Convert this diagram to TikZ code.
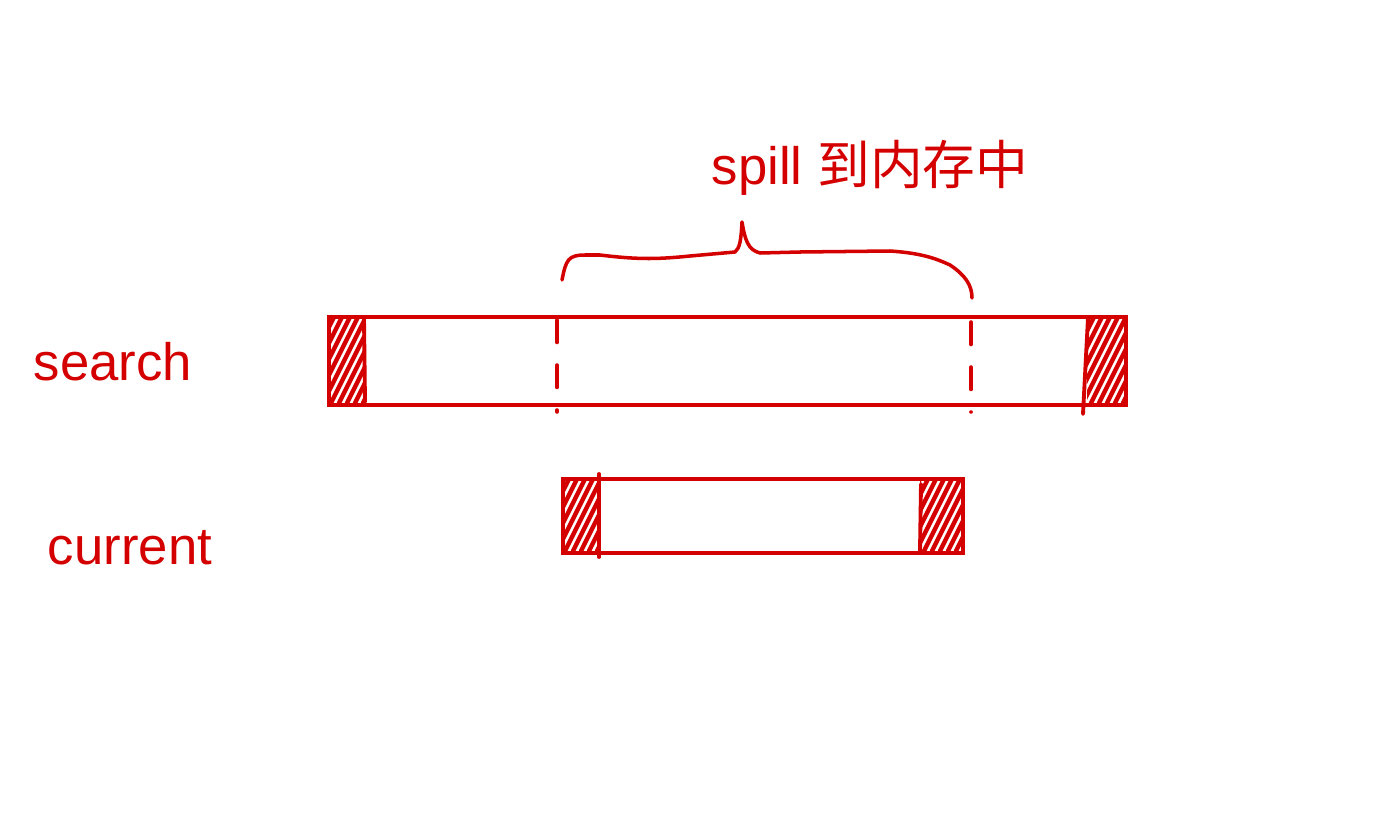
\documentclass[tikz,border=0pt]{standalone}
\usepackage{fontspec}
\setmainfont{Liberation Sans}
\newfontfamily\cjk{Noto Sans CJK SC}
\definecolor{ink}{HTML}{D40000}
\newcommand{\hatchzone}[4]{%
  \begin{scope}
    \clip (#1,#2) rectangle (#3,#4);
    \foreach \d in {-60,-52,...,60} {
      \draw[hatchline] (#1+\d,#4) -- ++(45,-90);
    }
  \end{scope}}
\begin{document}
\begin{tikzpicture}[x=0.02cm,y=-0.02cm,
  box/.style={draw=ink, line width=2.4pt, rectangle, inner sep=0pt, anchor=north west},
  hatchline/.style={draw=ink, line width=2.5pt, line cap=round},
  divider/.style={draw=ink, line width=2.2pt, line cap=round},
  guide/.style={draw=ink, line width=2pt, line cap=round, dash pattern=on 0.45cm off 0.45cm},
  bracepath/.style={draw=ink, line width=2pt, line cap=round, line join=round},
  label/.style={text=ink, font=\fontsize{30}{36}\selectfont, inner sep=0pt}]
\useasboundingbox (0,0) rectangle (1373,835);

% hatched ends
\hatchzone{327}{315}{364}{403}
\hatchzone{1087}{315}{1124}{403}
\hatchzone{561}{477}{600}{551}
\hatchzone{920}{477}{961}{551}
\draw[divider] (364,318) -- (365,402);
\draw[divider] (1088,318) -- (1083,414);
\draw[divider] (599,474) -- (599,557);
\draw[divider] (921,484) -- (920,551);

% boxes
\node[box, minimum width=15.94cm, minimum height=1.76cm] (search) at (327,315) {};
\node[box, minimum width=8cm, minimum height=1.48cm] (current) at (561,477) {};

% dashed guides
\draw[guide] (557,320) -- (557,412);
\draw[guide] (971,322) -- (971,412);

% brace
\coordinate (bl) at (562,280);
\coordinate (bt) at (742,222);
\coordinate (br) at (972,298);
\draw[bracepath] (bl) .. controls (566,260) and (568,255) .. (585,255)
  -- (600,255) .. controls (640,260) and (660,259) .. (690,256)
  -- (735,252) .. controls (740,248) and (741,240) .. (bt)
  .. controls (745,240) and (748,250) .. (760,253)
  -- (800,252) -- (890,251) .. controls (920,253) and (935,258) .. (950,265)
  .. controls (965,275) and (972,285) .. (br);

% labels
\node[label] (spill) at (870,168) {spill {\cjk 到内存中}};
\node[label] (searchlbl) at (113,362) {search};
\node[label] (currentlbl) at (130,548) {current};
\end{tikzpicture}
\end{document}
